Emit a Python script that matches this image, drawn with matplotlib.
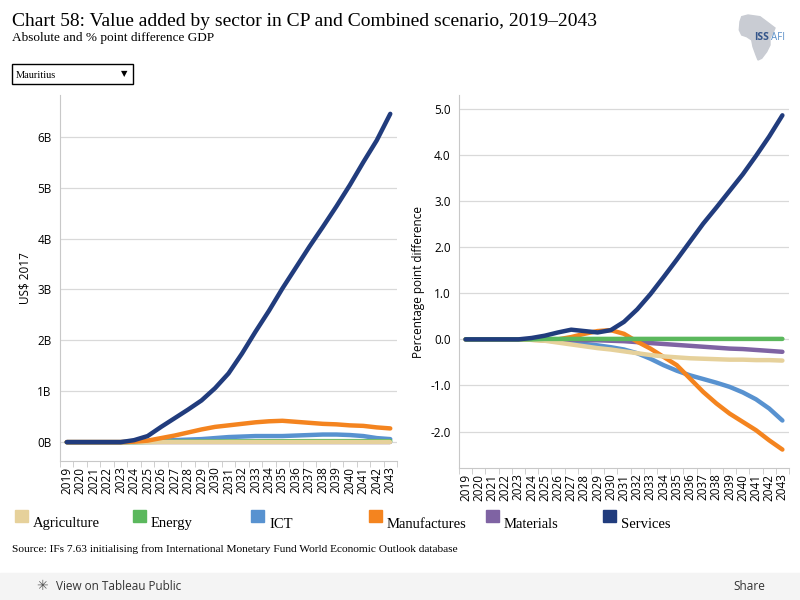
import numpy as np
import matplotlib.pyplot as plt
from matplotlib.patches import Rectangle, Polygon

years = list(range(2019, 2044))
sectors = ['Agriculture', 'Energy', 'ICT', 'Manufactures', 'Materials', 'Services']
colors = ['#e6d19b', '#5bb85d', '#5892d0', '#f4841f', '#7f63a3', '#213c7d']

# absolute difference, billions US$ 2017
abs_agriculture = [0, 0, 0, 0, 0, 0, 0, 0, 0, 0, 0, 0, 0, 0, 0, 0, 0, 0, 0, 0, 0, 0, 0, 0, 0]
abs_energy = [0, 0, 0, 0, 0, 0, 0.005, 0.008, 0.01, 0.012, 0.013, 0.014, 0.015, 0.016, 0.017,
              0.018, 0.018, 0.019, 0.02, 0.02, 0.02, 0.02, 0.02, 0.02, 0.02]
abs_ict = [0, 0, 0, 0, 0, 0.01, 0.02, 0.03, 0.04, 0.05, 0.06, 0.08, 0.1, 0.11, 0.12,
           0.12, 0.12, 0.13, 0.14, 0.15, 0.15, 0.14, 0.12, 0.08, 0.06]
abs_manufactures = [0, 0, 0, 0, 0, 0.01, 0.03, 0.08, 0.13, 0.19, 0.25, 0.3, 0.33, 0.36, 0.39,
                    0.41, 0.42, 0.4, 0.38, 0.36, 0.35, 0.33, 0.32, 0.29, 0.27]
abs_materials = [0, 0, 0, 0, 0, 0, 0, 0, 0, 0, 0, 0, 0, 0, 0, 0, 0, 0, 0, 0, 0, 0, 0, 0, 0]
abs_services = [0, 0, 0, 0, 0, 0.04, 0.12, 0.3, 0.47, 0.64, 0.82, 1.06, 1.35, 1.74, 2.17,
                2.58, 3.02, 3.43, 3.84, 4.23, 4.63, 5.05, 5.5, 5.93, 6.45]

# percentage point difference
pp_agriculture = [0, 0, 0, 0, 0, -0.01, -0.03, -0.07, -0.11, -0.15, -0.19, -0.22, -0.26, -0.3,
                  -0.34, -0.37, -0.39, -0.41, -0.42, -0.43, -0.44, -0.44, -0.45, -0.45, -0.46]
pp_energy = [0, 0, 0, 0, 0, 0, 0.01, 0.01, 0.01, 0.01, 0.01, 0.01, 0.01, 0.01, 0.01,
             0.01, 0.01, 0.01, 0.01, 0.01, 0.01, 0.01, 0.01, 0.01, 0.01]
pp_ict = [0, 0, 0, 0, 0, 0, -0.02, -0.05, -0.08, -0.1, -0.13, -0.17, -0.22, -0.3, -0.42,
          -0.56, -0.68, -0.78, -0.86, -0.94, -1.03, -1.15, -1.3, -1.5, -1.76]
pp_manufactures = [0, 0, 0, 0, 0, -0.01, -0.02, 0.0, 0.05, 0.12, 0.18, 0.2, 0.12, -0.05, -0.2,
                   -0.38, -0.56, -0.85, -1.14, -1.39, -1.61, -1.79, -1.97, -2.19, -2.39]
pp_materials = [0, 0, 0, 0, 0, 0, 0, -0.01, -0.01, -0.02, -0.02, -0.03, -0.04, -0.06, -0.08,
                -0.1, -0.12, -0.14, -0.16, -0.18, -0.2, -0.21, -0.23, -0.25, -0.27]
pp_services = [0, 0, 0, 0, 0, 0.03, 0.08, 0.15, 0.21, 0.18, 0.15, 0.2, 0.38, 0.65, 0.98,
               1.35, 1.73, 2.12, 2.51, 2.86, 3.22, 3.58, 3.98, 4.4, 4.86]

abs_data = [abs_agriculture, abs_energy, abs_ict, abs_manufactures, abs_materials, abs_services]
pp_data = [pp_agriculture, pp_energy, pp_ict, pp_manufactures, pp_materials, pp_services]

serif = 'Liberation Serif'
sans = 'Open Sans'

fig = plt.figure(figsize=(8, 6), dpi=100)

def px(x, y):
    # pixel position (from top-left) to figure fraction
    return (x / 800, 1 - y / 600)

# header
fig.text(*px(12, 22), 'Chart 58: Value added by sector in CP and Combined scenario, 2019\u20132043',
         family=serif, fontsize=14, va='center', ha='left')
fig.text(*px(12, 38), 'Absolute and % point difference GDP', family=serif, fontsize=9.5,
         va='center', ha='left')
fig.patches.append(Rectangle(px(12, 84), 121/800, 20/600, transform=fig.transFigure,
                             fill=False, edgecolor='black', linewidth=1))
fig.text(*px(16, 75), 'Mauritius', family=serif, fontsize=7.5, va='center')
fig.text(*px(124, 74), '\u25bc', fontsize=6, va='center', ha='center')

# logo
africa = [(741.7, 16.7), (748, 15), (760, 16.7), (766.7, 21.7), (775, 28), (773, 33), (770, 38),
          (770, 45), (766.7, 51.7), (761.7, 58.3), (758, 60), (756, 55), (753, 46.7),
          (751.7, 40), (746.7, 36.7), (741.7, 35), (739.3, 30), (740, 21.7)]
fig.patches.append(Polygon([px(a, b) for a, b in africa], closed=True, transform=fig.transFigure,
                           color='#c9ccd3'))
fig.text(*px(769, 38), 'ISS', family=sans, fontsize=7.5, color='#34558a', weight='bold',
         va='center', ha='right')
fig.text(*px(771, 38), 'AFI', family=sans, fontsize=7, color='#5a8fc8', va='center', ha='left')

ax1 = fig.add_axes([60/800, 1-461/600, 337/800, 366/600])
ax2 = fig.add_axes([459/800, 1-468/600, 330/800, 373/600])

x = np.arange(len(years))
order_left = [2, 4, 1, 0, 3, 5]
order_right = [2, 4, 3, 0, 1, 5]

for i in order_left:
    ax1.plot(x, abs_data[i], color=colors[i], linewidth=3.2, solid_capstyle='round')
for i in order_right:
    ax2.plot(x, pp_data[i], color=colors[i], linewidth=3.2, solid_capstyle='round')

ax1.set_ylim(-0.37, 6.82)
ax1.set_yticks([0, 1, 2, 3, 4, 5, 6])
ax1.set_yticklabels(['0B', '1B', '2B', '3B', '4B', '5B', '6B'])
ax1.set_ylabel('US$ 2017', family=sans, fontsize=8.5)

ax2.set_ylim(-2.79, 5.3)
ax2.set_yticks([-2, -1, 0, 1, 2, 3, 4, 5])
ax2.set_yticklabels(['-2.0', '-1.0', '0.0', '1.0', '2.0', '3.0', '4.0', '5.0'])
ax2.set_ylabel('Percentage point difference', family=sans, fontsize=8.5)

for ax in (ax1, ax2):
    ax.set_xlim(-0.5, len(years) - 0.5)
    ax.set_xticks(x)
    ax.set_xticks(np.arange(len(years) + 1) - 0.5, minor=True)
    ax.set_xticklabels([str(y) for y in years], rotation=90, family=sans, fontsize=8.5)
    for lab in ax.get_yticklabels():
        lab.set_family(sans)
        lab.set_fontsize(8.5)
    ax.grid(axis='y', color='#d9d9d9', linewidth=0.9)
    ax.set_axisbelow(True)
    ax.spines['top'].set_visible(False)
    ax.spines['right'].set_visible(False)
    ax.spines['left'].set_color('#c8c8c8')
    ax.spines['bottom'].set_color('#c8c8c8')
    ax.tick_params(axis='y', length=0, pad=6)
    ax.tick_params(axis='x', which='major', length=0, pad=4)
    ax.tick_params(axis='x', which='minor', length=4, color='#c8c8c8')

# legend
leg_x = [15, 133, 251, 369, 486, 603]
for i, name in enumerate(sectors):
    fig.patches.append(Rectangle(px(leg_x[i], 522), 13/800, 12/600,
                                 transform=fig.transFigure, color=colors[i]))
    fig.text(*px(leg_x[i] + 18, 524), name, family=serif, fontsize=10.5, va='center')

fig.text(*px(12, 549),
         'Source: IFs 7.63 initialising from International Monetary Fund World Economic Outlook database',
         family=serif, fontsize=8.2, va='center')

# toolbar
fig.patches.append(Rectangle((0, 0), 1, 27/600, transform=fig.transFigure, color='#f4f4f4'))
fig.text(*px(42, 586), '\u2733', fontsize=10, color='#555555', va='center', ha='center')
fig.text(*px(56, 586), 'View on Tableau Public', family=sans, fontsize=8.5, color='#333333',
         va='center')
fig.text(*px(733, 586), 'Share', family=sans, fontsize=8.5, color='#333333', va='center')

fig.savefig('out.png', dpi=100)
